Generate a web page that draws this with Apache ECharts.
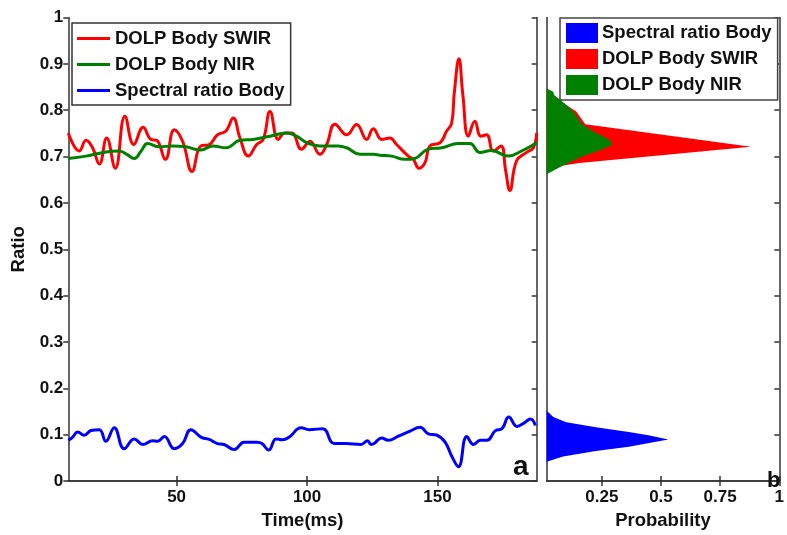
<!DOCTYPE html>
<html><head><meta charset="utf-8">
<script src="https://cdn.jsdelivr.net/npm/echarts@6/dist/echarts.min.js"></script>
<style>html,body{margin:0;padding:0;background:#fff}#c{width:787px;height:535px}</style>
</head><body><div id="c"></div>
<script>
// ---- time series (panel a) ----
const swirTime  = [8.5,12.7,15.3,17.8,20.4,23.2,26.5,30.2,33.6,37.2,40.2,42.4,45.7,49.1,52.3,55.9,59.3,62.5,65.7,68.9,71.7,74.3,77.5,80.7,83.2,85.8,89,91.5,94.1,97.9,101.1,104.9,107.5,110.7,115.2,119,122.8,125.4,128.6,131.7,134.3,138.8,140.7,142.9,145.2,147.1,151,153.5,155.4,156.4,158.2,159.7,161.8,164.3,166.6,168.8,171.4,174.3,176.1,177.7,180.3,184.1,186.7,188];
const swirRatio = [0.751,0.712,0.735,0.719,0.684,0.740,0.675,0.787,0.726,0.763,0.737,0.735,0.694,0.758,0.733,0.668,0.723,0.726,0.747,0.755,0.783,0.740,0.701,0.726,0.737,0.797,0.737,0.751,0.751,0.716,0.733,0.705,0.726,0.770,0.747,0.769,0.737,0.760,0.737,0.740,0.726,0.701,0.694,0.675,0.687,0.723,0.730,0.755,0.772,0.836,0.911,0.833,0.744,0.776,0.744,0.747,0.712,0.723,0.670,0.627,0.691,0.709,0.719,0.751];

const nirTime  = [8.5,15.3,23,28,30.6,33.8,36.4,38.9,43.4,48.5,53.6,59.3,63.8,68.9,74.3,79.4,85.8,92.2,96,99.9,104.9,111.9,115.2,120.3,125.4,128,132.4,137.5,141.3,146.4,151.6,157.9,162.4,166.2,170.7,177.1,182.2,188];
const nirRatio = [0.696,0.701,0.710,0.712,0.706,0.696,0.712,0.728,0.721,0.723,0.721,0.714,0.723,0.719,0.735,0.737,0.744,0.751,0.744,0.730,0.723,0.723,0.719,0.705,0.705,0.703,0.701,0.694,0.696,0.716,0.719,0.728,0.728,0.709,0.713,0.701,0.712,0.730];

const specTime  = [8.5,10.2,12.1,14.6,17.2,20.4,22.9,26.1,29.9,33.8,37,40.8,42.7,45.3,49.1,52.3,55.5,59.3,62.5,65.7,68.2,72.1,75.9,81,82.7,85.3,88.1,90.6,93.2,97.7,100.8,106,110.4,114.9,120.6,123.2,124.5,125.7,128.6,131.1,135,139.5,143.3,146.5,149.7,152.9,155.5,158,161.2,163.8,166.4,168.9,172.2,174.7,177.3,180.5,183.1,185.6,187.5];
const specRatio = [0.088,0.095,0.106,0.099,0.109,0.111,0.086,0.115,0.070,0.091,0.079,0.087,0.086,0.096,0.070,0.081,0.111,0.095,0.090,0.081,0.079,0.068,0.084,0.084,0.081,0.067,0.091,0.089,0.095,0.115,0.111,0.113,0.081,0.081,0.079,0.087,0.079,0.081,0.093,0.088,0.097,0.108,0.116,0.102,0.099,0.084,0.053,0.031,0.096,0.079,0.088,0.088,0.109,0.113,0.138,0.118,0.125,0.134,0.120];

// ---- histograms (panel b): ratio level -> probability ----
const histSpecLevel = [0.152,0.138,0.127,0.116,0.106,0.099,0.090,0.074,0.065,0.053,0.042];
const histSpecProb  = [0.017,0.045,0.100,0.225,0.364,0.447,0.531,0.364,0.225,0.086,0.017];
const histSwirLevel = [0.845,0.833,0.811,0.797,0.770,0.721,0.686,0.680,0.675];
const histSwirProb  = [0.017,0.045,0.100,0.142,0.180,0.881,0.155,0.080,0.017];
const histNirLevel  = [0.847,0.840,0.833,0.826,0.811,0.794,0.772,0.755,0.737,0.726,0.716,0.698,0.687,0.677,0.662];
const histNirProb   = [0.017,0.045,0.048,0.065,0.100,0.135,0.163,0.211,0.281,0.297,0.253,0.156,0.114,0.072,0.017];

// ---- axes ----
const timeTicks = [50,100,150];
const probTicks = [0.25,0.5,0.75,1];
const probMin = 0.017;

const FONT = "'Liberation Sans', Arial, sans-serif";
const axisCol = '#333';
const RED = '#ff0000', GREEN = '#008000', BLUE = '#0000ff';

const chart = echarts.init(document.getElementById('c'), null, {renderer:'canvas'});

function pairs(xs, ys){ return xs.map((x,i)=>[x, ys[i]]); }

function lineSeries(name, t, v, color){
  return {type:'line', name, xAxisIndex:0, yAxisIndex:0, data:pairs(t,v),
    showSymbol:false, symbol:'none', smooth:0.45, clip:true,
    lineStyle:{color, width:3}, itemStyle:{color}, z:3};
}
function histSeries(name, levels, probs, color, z){
  return {type:'custom', name, xAxisIndex:2, yAxisIndex:2, clip:true, z,
    itemStyle:{color},
    data: levels.map((l,i)=>[probs[i], l]),
    encode:{x:0, y:1},
    renderItem(params, api){
      if (params.dataIndex !== 0) return null;
      const pts = [api.coord([probMin, levels[0]])];
      levels.forEach((l,i)=>pts.push(api.coord([probs[i], l])));
      pts.push(api.coord([probMin, levels[levels.length-1]]));
      return {type:'polygon', shape:{points:pts}, style:{fill:color}};
    }};
}

const tickLabel = {fontFamily:FONT, fontWeight:'bold', fontSize:17, color:'#111'};
const nameStyle = {fontFamily:FONT, fontWeight:'bold', fontSize:18.5, color:'#111'};
const lineS = {show:true, lineStyle:{color:axisCol, width:1.5}};

const option = {
  backgroundColor:'#fff',
  animation:false,
  grid:[
    {left:68.3, top:17.5, width:468.4, height:470.5},
    {left:546.7, top:17.5, width:236, height:470.5}
  ],
  xAxis:[
    {gridIndex:0, type:'value', min:8.5, max:188, position:'bottom',
     axisLine:lineS, splitLine:{show:false},
     axisTick:{show:true, inside:true, length:5, customValues:timeTicks, lineStyle:{color:axisCol, width:1.5}},
     axisLabel:{customValues:timeTicks, margin:8, ...tickLabel},
     name:'Time(ms)', nameLocation:'middle', nameGap:24, nameTextStyle:nameStyle},
    {gridIndex:0, type:'value', min:8.5, max:188, position:'top',
     axisLine:lineS, splitLine:{show:false},
     axisTick:{show:true, inside:true, length:5, customValues:timeTicks, lineStyle:{color:axisCol, width:1.5}},
     axisLabel:{show:false}},
    {gridIndex:1, type:'value', min:probMin, max:1, position:'bottom',
     axisLine:lineS, splitLine:{show:false},
     axisTick:{show:true, inside:true, length:5, customValues:probTicks, lineStyle:{color:axisCol, width:1.5}},
     axisLabel:{customValues:probTicks, margin:8, ...tickLabel},
     name:'Probability', nameLocation:'middle', nameGap:24, nameTextStyle:nameStyle},
    {gridIndex:1, type:'value', min:probMin, max:1, position:'top',
     axisLine:lineS, splitLine:{show:false},
     axisTick:{show:true, inside:true, length:5, customValues:probTicks, lineStyle:{color:axisCol, width:1.5}},
     axisLabel:{show:false}}
  ],
  yAxis:[
    {gridIndex:0, type:'value', min:0, max:1, interval:0.1, position:'left',
     axisLine:lineS, splitLine:{show:false},
     axisTick:{show:true, inside:false, length:5, lineStyle:{color:axisCol, width:1.5}},
     axisLabel:{margin:5, ...tickLabel},
     name:'Ratio', nameLocation:'middle', nameGap:40, nameTextStyle:nameStyle},
    {gridIndex:0, type:'value', min:0, max:1, interval:0.1, position:'right',
     axisLine:lineS, splitLine:{show:false},
     axisTick:{show:true, inside:true, length:5, lineStyle:{color:axisCol, width:1.5}},
     axisLabel:{show:false}},
    {gridIndex:1, type:'value', min:0, max:1, interval:0.1, position:'left',
     axisLine:lineS, splitLine:{show:false}, axisTick:{show:false}, axisLabel:{show:false}},
    {gridIndex:1, type:'value', min:0, max:1, interval:0.1, position:'right',
     axisLine:lineS, splitLine:{show:false},
     axisTick:{show:true, inside:true, length:5, lineStyle:{color:axisCol, width:1.5}},
     axisLabel:{show:false}}
  ],
  legend:[
    {left:72, top:23, orient:'vertical', selectedMode:false, icon:'rect',
     data:['DOLP Body SWIR','DOLP Body NIR','Spectral ratio Body'],
     itemWidth:33, itemHeight:3, itemGap:7, padding:[6,6,5,5],
     backgroundColor:'#fff', borderColor:'#333', borderWidth:1.5, borderRadius:0,
     textStyle:{fontFamily:FONT, fontWeight:'bold', fontSize:18.5, color:'#111'}},
    {left:560, top:18, orient:'vertical', selectedMode:false, icon:'rect',
     data:['h:Spectral ratio Body','h:DOLP Body SWIR','h:DOLP Body NIR'],
     formatter:(n)=>n.slice(2),
     itemWidth:32, itemHeight:20, itemGap:6, padding:[5,6,5,6],
     backgroundColor:'#fff', borderColor:'#444', borderWidth:1.5, borderRadius:0,
     textStyle:{fontFamily:FONT, fontWeight:'bold', fontSize:18.5, color:'#111', padding:[0,0,0,-1]}}
  ],
  graphic:[
    {type:'text', left:513, top:453, z:10, style:{text:'a', font:"bold 28px 'Liberation Sans', Arial", fill:'#111'}},
    {type:'text', left:767, top:470, z:10, style:{text:'b', font:"bold 22px 'Liberation Sans', Arial", fill:'#111'}}
  ],
  series:[
    lineSeries('DOLP Body SWIR', swirTime, swirRatio, RED),
    lineSeries('DOLP Body NIR', nirTime, nirRatio, GREEN),
    lineSeries('Spectral ratio Body', specTime, specRatio, BLUE),
    histSeries('h:Spectral ratio Body', histSpecLevel, histSpecProb, BLUE, 2),
    histSeries('h:DOLP Body SWIR', histSwirLevel, histSwirProb, RED, 2),
    histSeries('h:DOLP Body NIR', histNirLevel, histNirProb, GREEN, 3)
  ]
};
chart.setOption(option);
</script>
</body></html>
